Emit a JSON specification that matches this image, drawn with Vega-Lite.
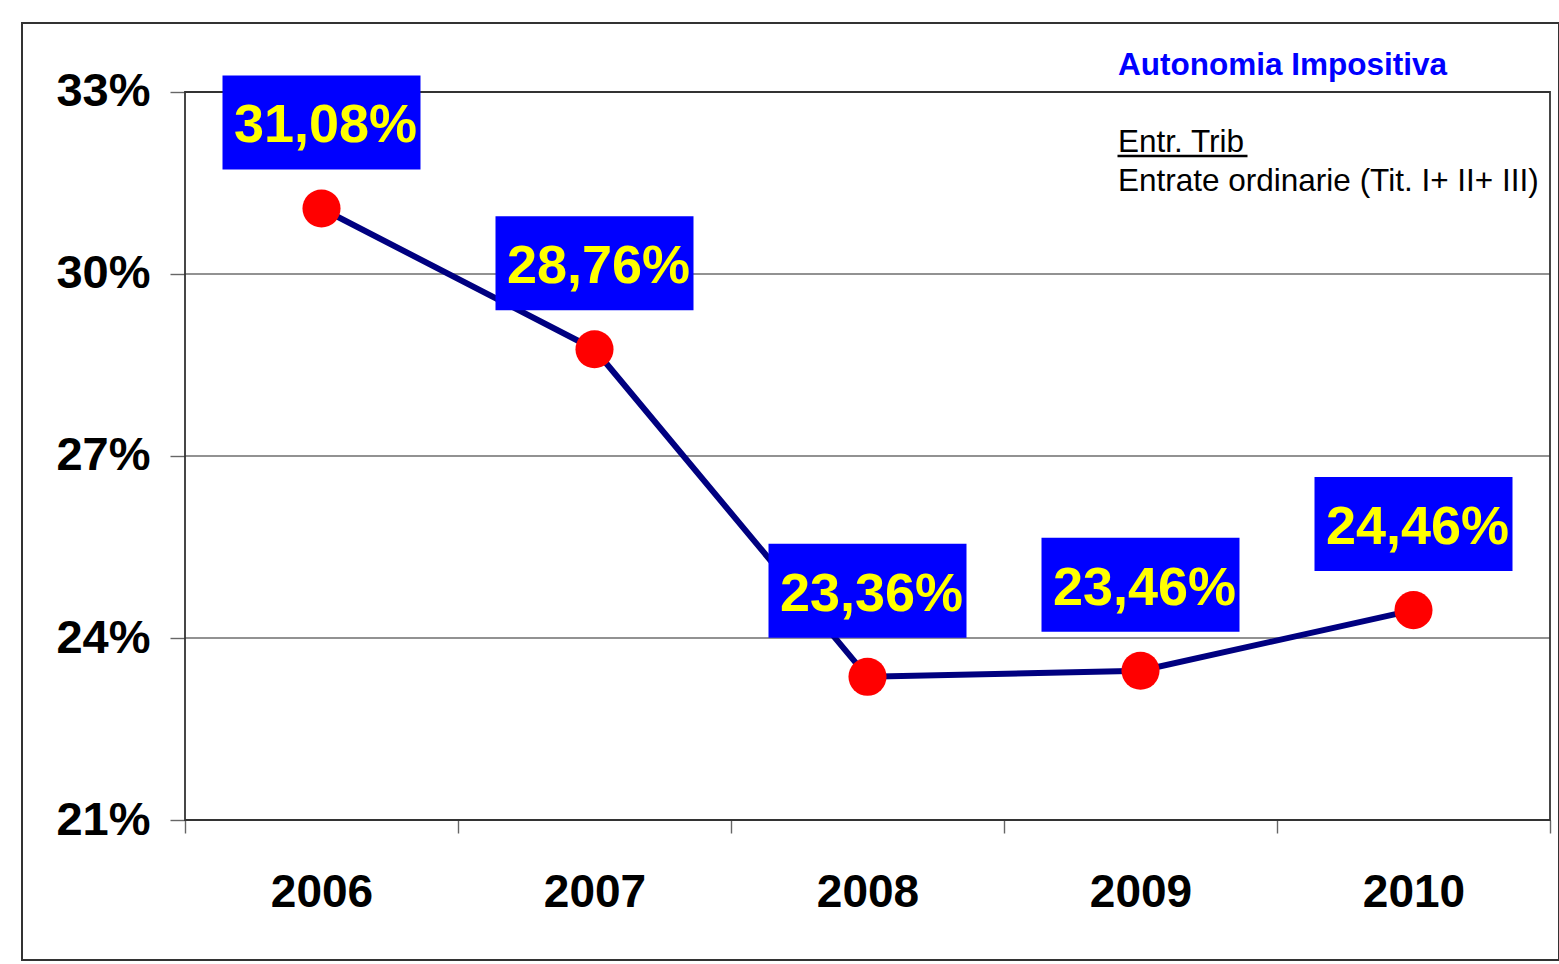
{
  "$schema": "https://vega.github.io/schema/vega-lite/v6.json",
  "width": 1537,
  "height": 937,
  "autosize": {"type": "none"},
  "padding": {"left": 22, "top": 23, "right": 0, "bottom": 4},
  "background": "white",
  "config": {
    "locale": {"number": {"decimal": ",", "thousands": ".", "grouping": [3], "currency": ["", " €"]}},
    "view": {"stroke": "#333333", "strokeWidth": 2},
    "font": "Liberation Sans"
  },
  "datasets": {
    "series": [
      {"year": 2006, "value": 0.3108},
      {"year": 2007, "value": 0.2876},
      {"year": 2008, "value": 0.2336},
      {"year": 2009, "value": 0.2346},
      {"year": 2010, "value": 0.2446}
    ],
    "grid": [{"v": 0.24}, {"v": 0.27}, {"v": 0.30}]
  },
  "layer": [
    {
      "data": {"name": "grid"},
      "mark": {"type": "rule", "color": "#6e6e6e", "strokeWidth": 1.4},
      "encoding": {
        "x": {
          "datum": 2005.5, "type": "quantitative",
          "scale": {"domain": [2004.90293, 2010.53297], "nice": false, "zero": false},
          "axis": {
            "values": [2005.5, 2006.5, 2007.5, 2008.5, 2009.5, 2010.5],
            "offset": -140, "domain": false, "grid": false,
            "ticks": true, "tickSize": 13, "tickColor": "#666666", "tickWidth": 1.4,
            "labelExpr": "datum.value > 2010 ? '' : '' + (datum.value + 0.5)",
            "labelOffset": 136.5, "labelPadding": 37,
            "labelFont": "Liberation Sans", "labelFontSize": 46, "labelFontWeight": "bold", "labelColor": "#000000",
            "labelOverlap": false, "labelBound": false, "labelFlush": false,
            "title": null
          }
        },
        "x2": {"datum": 2010.5},
        "y": {
          "field": "v", "type": "quantitative",
          "scale": {"domain": [0.1869231, 0.3413736], "nice": false, "zero": false},
          "axis": {
            "values": [0.21, 0.24, 0.27, 0.30, 0.33],
            "format": ".0%",
            "offset": -163, "domain": false, "grid": false,
            "ticks": true, "tickSize": 15, "tickColor": "#666666", "tickWidth": 1.4,
            "labelPadding": 20,
            "labelFont": "Liberation Sans", "labelFontSize": 47, "labelFontWeight": "bold", "labelColor": "#000000",
            "labelOverlap": false, "labelBound": false, "labelFlush": false,
            "title": null
          }
        }
      }
    },
    {
      "data": {"values": [{}]},
      "mark": {"type": "rect", "filled": false, "color": "#333333", "strokeWidth": 1.8},
      "encoding": {
        "x": {"datum": 2005.5, "type": "quantitative"},
        "x2": {"datum": 2010.5},
        "y": {"datum": 0.21, "type": "quantitative"},
        "y2": {"datum": 0.33}
      }
    },
    {
      "data": {"name": "series"},
      "mark": {"type": "line", "color": "#000080", "strokeWidth": 6},
      "encoding": {
        "x": {"field": "year", "type": "quantitative"},
        "y": {"field": "value", "type": "quantitative"}
      }
    },
    {
      "data": {"name": "series"},
      "mark": {"type": "circle", "color": "#FF0000", "opacity": 1, "size": 1450},
      "encoding": {
        "x": {"field": "year", "type": "quantitative"},
        "y": {"field": "value", "type": "quantitative"}
      }
    },
    {
      "data": {"name": "series"},
      "mark": {"type": "rect", "color": "#0000FF", "xOffset": -99, "x2Offset": 99, "yOffset": -133, "y2Offset": -39},
      "encoding": {
        "x": {"field": "year", "type": "quantitative"},
        "x2": {"field": "year"},
        "y": {"field": "value", "type": "quantitative"},
        "y2": {"field": "value"}
      }
    },
    {
      "data": {"name": "series"},
      "mark": {"type": "text", "color": "#FFFF00", "font": "Liberation Sans", "fontSize": 54, "fontWeight": "bold", "align": "center", "baseline": "alphabetic", "dx": 4, "dy": -66},
      "encoding": {
        "x": {"field": "year", "type": "quantitative"},
        "y": {"field": "value", "type": "quantitative"},
        "text": {"field": "value", "type": "quantitative", "format": ".2%"}
      }
    },
    {
      "data": {"values": [{}]},
      "mark": {"type": "text", "color": "#0000FF", "font": "Liberation Sans", "fontSize": 31.5, "fontWeight": "bold", "align": "left", "baseline": "alphabetic", "dx": -22.5, "dy": -17},
      "encoding": {
        "x": {"datum": 2009, "type": "quantitative"},
        "y": {"datum": 0.33, "type": "quantitative"},
        "text": {"value": "Autonomia Impositiva"}
      }
    },
    {
      "data": {"values": [{}]},
      "mark": {"type": "text", "color": "#000000", "font": "Liberation Sans", "fontSize": 31.5, "align": "left", "baseline": "alphabetic", "lineHeight": 39, "dx": -22.5, "dy": 60},
      "encoding": {
        "x": {"datum": 2009, "type": "quantitative"},
        "y": {"datum": 0.33, "type": "quantitative"},
        "text": {"value": ["Entr. Trib", "Entrate ordinarie (Tit. I+ II+ III)"]}
      }
    },
    {
      "data": {"values": [{}]},
      "mark": {"type": "rule", "color": "#000000", "strokeWidth": 2.5, "xOffset": -23, "x2Offset": 107, "yOffset": 64},
      "encoding": {
        "x": {"datum": 2009, "type": "quantitative"},
        "x2": {"datum": 2009},
        "y": {"datum": 0.33, "type": "quantitative"}
      }
    }
  ]
}
